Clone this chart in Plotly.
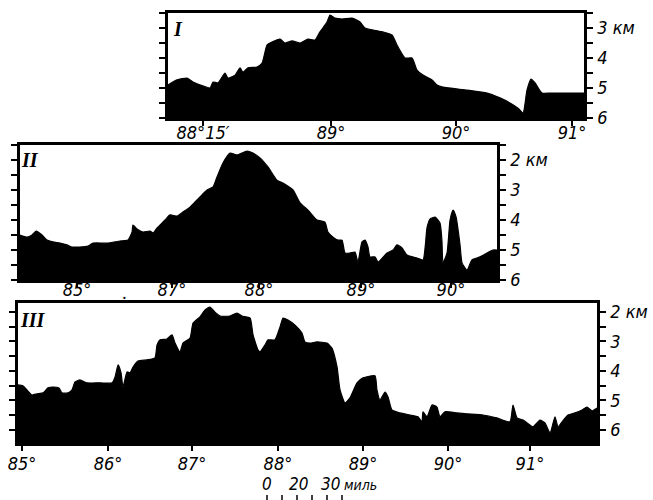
import plotly.graph_objects as go

# ---------------- data (along-track distance in miles, depth in km) ----------------
# Profile I
p1_dist = [0, 6, 12.7, 16.7, 23.3, 28, 30, 33.3, 38, 40, 44.7, 48, 50, 53.3, 59.3, 62.7,
           66, 69.3, 74.7, 78, 82.7, 88, 93.3, 98, 101.3, 106, 108, 111.3, 116, 122.7,
           128, 131.3, 136.7, 143.3, 149.3, 153.3, 158, 162.7, 166, 170, 176, 179.3,
           183.3, 199.3, 212.7, 221.3, 228, 233.3, 236.7, 239.3, 242, 244.7, 249.3,
           254.7, 277.3]
p1_depth = [4.90, 4.73, 4.67, 4.80, 4.93, 5.00, 4.80, 4.83, 4.50, 4.67, 4.57, 4.33, 4.47,
            4.33, 4.30, 4.17, 3.57, 3.47, 3.37, 3.50, 3.43, 3.50, 3.37, 3.40, 3.13, 2.80,
            2.57, 2.67, 2.70, 2.67, 2.80, 3.00, 3.07, 3.13, 3.23, 3.63, 4.00, 4.00, 4.40,
            4.57, 4.73, 4.90, 4.97, 5.07, 5.17, 5.33, 5.50, 5.67, 5.83, 5.07, 4.70, 4.83,
            5.17, 5.17, 5.17]
p1_ticks = [23.3, 108.7, 192, 269.3]
p1_ticktext = ["88°15′", "89°", "90°", "91°"]

# Profile II
p2_dist = [0, 4.7, 8, 10.7, 14.7, 18, 22, 26.7, 31.3, 34.7, 40, 45.3, 48.7, 58, 66.7, 72,
           74.7, 75.3, 78, 82, 86.7, 88.7, 91.3, 96.7, 100, 104.7, 108.7, 113.3, 116.7,
           120, 124.7, 128.7, 131.3, 135.3, 140, 144.7, 151.3, 155.3, 160, 165.3, 171.3,
           175.3, 182, 186.7, 192, 198, 203.3, 205.3, 208.7, 212, 214.7, 216.7, 220,
           223.3, 225.3, 228, 230, 232, 233.3, 236.7, 238.7, 244.7, 248.7, 251.3, 254.7,
           258, 264.7, 268.7, 270.3, 271.3, 273.3, 276.7, 280, 281.3, 282, 284.7, 286.7,
           288.7, 290.7, 293.3, 294.7, 298, 301.3, 306.7, 311.3, 315.3, 318]
p2_depth = [4.50, 4.57, 4.50, 4.37, 4.50, 4.67, 4.73, 4.77, 4.83, 4.90, 4.90, 4.87, 4.77,
            4.77, 4.70, 4.67, 4.40, 4.17, 4.30, 4.40, 4.37, 4.43, 4.27, 4.00, 3.83, 3.87,
            3.73, 3.57, 3.40, 3.23, 3.00, 2.90, 2.57, 2.10, 1.77, 1.83, 1.70, 1.77, 1.93,
            2.23, 2.67, 2.77, 3.00, 3.43, 3.67, 4.00, 4.07, 4.40, 4.57, 4.67, 4.67, 5.10,
            5.10, 5.07, 5.40, 4.73, 4.67, 4.90, 5.23, 5.23, 5.40, 5.10, 5.00, 4.83, 4.93,
            5.17, 5.27, 5.33, 4.80, 4.27, 3.97, 3.90, 4.10, 4.70, 5.43, 5.10, 4.00, 3.67,
            3.90, 4.80, 5.43, 5.67, 5.33, 5.23, 5.10, 5.00, 5.00]
p2_ticks = [38, 101.3, 159.3, 227.3, 287.3]
p2_ticktext = ["85°", "87°", "88°", "89°", "90°"]

# Profile III
p3_dist = [0, 3.3, 6, 9.3, 12.7, 16.7, 20, 23.3, 27.3, 29.3, 33.3, 36, 38, 41.3, 46, 54.7,
           62.7, 64.7, 66.7, 68.7, 70, 72.7, 74.7, 76.7, 80, 86, 91.3, 92.7, 94.7, 99.3,
           102.7, 104.7, 108, 110, 114.7, 116.7, 121.3, 124.7, 128, 131.3, 134.7, 141.3,
           146, 149.3, 154.7, 156.7, 160, 161.3, 164.7, 166.7, 171.3, 174.7, 176.7, 180,
           184.7, 189.3, 191.3, 194.7, 199.3, 206, 209.3, 212.7, 214.7, 218, 221.3, 226,
           230, 238, 239.3, 241.3, 244.7, 246.7, 249.3, 254.7, 261.3, 266.7, 269.3, 270,
           272.7, 276, 279.3, 281.3, 284.7, 292.7, 299.3, 310, 319.3, 328, 330, 332.7,
           336.7, 341.3, 343.3, 348, 351.3, 354.7, 358, 360, 362.7, 366.7, 371.3, 376,
           379.3, 382.7, 386]
p3_depth = [4.48, 4.51, 4.65, 4.82, 4.78, 4.75, 4.58, 4.55, 4.58, 4.75, 4.75, 4.65, 4.38,
            4.31, 4.41, 4.41, 4.41, 4.21, 3.80, 4.07, 4.55, 4.04, 4.07, 3.87, 3.67, 3.63,
            3.56, 3.12, 2.95, 2.92, 2.78, 3.06, 3.36, 3.06, 2.89, 2.38, 2.17, 1.94, 1.84,
            2.01, 2.14, 2.14, 2.04, 2.14, 2.21, 2.78, 3.29, 3.36, 3.12, 2.95, 2.95, 2.51,
            2.21, 2.28, 2.45, 2.72, 3.02, 3.06, 3.02, 3.06, 3.23, 3.87, 4.65, 5.09, 4.92,
            4.41, 4.24, 4.17, 4.65, 4.99, 4.72, 4.89, 5.33, 5.43, 5.50, 5.56, 5.73, 5.39,
            5.56, 5.16, 5.23, 5.56, 5.39, 5.43, 5.46, 5.50, 5.60, 5.73, 5.16, 5.60, 5.67,
            5.84, 5.90, 5.67, 5.77, 6.11, 5.56, 5.90, 5.73, 5.50, 5.43, 5.33, 5.23, 5.36,
            5.26]
p3_ticks = [2.7, 60, 116, 173.3, 230, 286.7, 341.3]
p3_ticktext = ["85°", "86°", "87°", "88°", "89°", "90°", "91°"]

# depth ticks (km) and labels per panel
p1_ytick = [2.5, 3, 3.5, 4, 4.5, 5, 5.5, 6]
p1_ytext = ["", "3 км", "", "4", "", "5", "", "6"]
p2_ytick = [1.5, 2, 2.5, 3, 3.5, 4, 4.5, 5, 5.5, 6]
p2_ytext = ["", "2 км", "", "3", "", "4", "", "5", "", "6"]
p3_ytick = [2, 2.5, 3, 3.5, 4, 4.5, 5, 5.5, 6]
p3_ytext = ["2 км", "", "3", "", "4", "", "5", "", "6"]

# scale bar (miles)
scale_origin = 166
scale_ticks = [0, 10, 20, 30, 40, 50]
scale_labels = [("0", 0), ("20", 21), ("30", 42)]
scale_unit = "миль"

panels = [
    dict(d=p1_dist, z=p1_depth, xt=p1_ticks, xtt=p1_ticktext, yt=p1_ytick, ytt=p1_ytext,
         yr=(6.0, 2.5), xdom=(168/653, 584/653), ydom=(1-118/500, 1-13/500), name="I",
         nx=0.024, ny=0.85, so=-8),
    dict(d=p2_dist, z=p2_depth, xt=p2_ticks, xtt=p2_ticktext, yt=p2_ytick, ytt=p2_ytext,
         yr=(6.0, 1.5), xdom=(20/653, 497/653), ydom=(1-280/500, 1-145/500), name="II",
         nx=0.022, ny=0.89, so=-13),
    dict(d=p3_dist, z=p3_depth, xt=p3_ticks, xtt=p3_ticktext, yt=p3_ytick, ytt=p3_ytext,
         yr=(6.45, 1.7), xdom=(18/653, 597/653), ydom=(1-443/500, 1-303/500), name="III",
         nx=0.026, ny=0.88, so=-2),
]

FONT = "DejaVu Sans Condensed, Liberation Sans Narrow, DejaVu Sans, sans-serif"
fig = go.Figure()
annotations = []
layout = {}
for i, p in enumerate(panels, start=1):
    xa = "x" if i == 1 else f"x{i}"
    ya = "y" if i == 1 else f"y{i}"
    fig.add_trace(go.Scatter(x=[p["d"][0], p["d"][-1]], y=[p["yr"][0], p["yr"][0]],
                             mode="lines", line=dict(width=0, color="black"),
                             xaxis=xa, yaxis=ya, showlegend=False, hoverinfo="skip"))
    fig.add_trace(go.Scatter(x=p["d"], y=p["z"], mode="lines", fill="tonexty",
                             fillcolor="black", line=dict(color="black", width=1.2,
                             shape="spline", smoothing=0.5),
                             xaxis=xa, yaxis=ya, showlegend=False))
    layout[f"xaxis{'' if i == 1 else i}"] = dict(
        domain=list(p["xdom"]), anchor=ya, range=[p["d"][0], p["d"][-1]],
        tickvals=p["xt"], ticktext=p["xtt"], ticks="outside", ticklen=5, tickwidth=2,
        tickcolor="black", showline=True, linewidth=2.5, linecolor="black", mirror=True,
        showgrid=False, zeroline=False, ticklabelstandoff=p["so"], automargin=False,
        tickfont=dict(family=FONT, size=18, color="black", style="italic"))
    layout[f"yaxis{'' if i == 1 else i}"] = dict(
        domain=list(p["ydom"]), anchor=xa, range=list(p["yr"]), side="right",
        tickvals=p["yt"], ticktext=p["ytt"], ticks="outside", ticklen=6, tickwidth=2,
        tickcolor="black", showline=True, linewidth=2.5, linecolor="black",
        mirror="ticks", showgrid=False, zeroline=False, ticklabelstandoff=1,
        automargin=False,
        tickfont=dict(family=FONT, size=18, color="black", style="italic"))
    annotations.append(dict(text=p["name"], xref=f"{xa} domain", yref=f"{ya} domain",
                            x=p["nx"], y=p["ny"], showarrow=False, xanchor="center",
                            yanchor="middle",
                            font=dict(family="Liberation Serif, serif", size=20,
                                      color="black", style="italic", weight="bold")))

# stray dot in the scan below profile II
annotations.append(dict(text=".", xref="paper", yref="paper", x=120/653, y=1-292/500,
                        showarrow=False, font=dict(size=18, color="black")))

# scale bar
for lab, off in scale_labels:
    annotations.append(dict(text=lab, xref="x3", yref="paper", x=scale_origin + off,
                            y=1-484/500, showarrow=False, xanchor="center", yanchor="middle",
                            font=dict(family=FONT, size=17, color="black", style="italic")))
annotations.append(dict(text=scale_unit, xref="x3", yref="paper", x=scale_origin + 50,
                        y=1-485/500, showarrow=False, xanchor="left", yanchor="middle",
                        font=dict(family=FONT, size=14, color="black", style="italic")))
shapes = [dict(type="line", xref="x3", yref="paper", x0=scale_origin + t,
               x1=scale_origin + t, y0=0, y1=1-495/500,
               line=dict(color="black", width=1.5)) for t in scale_ticks]

fig.update_layout(**layout)
fig.update_layout(template="none", width=653, height=500,
                  margin=dict(l=0, r=0, t=0, b=0, autoexpand=False),
                  plot_bgcolor="white", paper_bgcolor="white",
                  annotations=annotations, shapes=shapes, showlegend=False)
fig.write_html("out.html", config={"displayModeBar": False},
               post_script="document.body.style.margin='0';document.body.style.padding='0';")
